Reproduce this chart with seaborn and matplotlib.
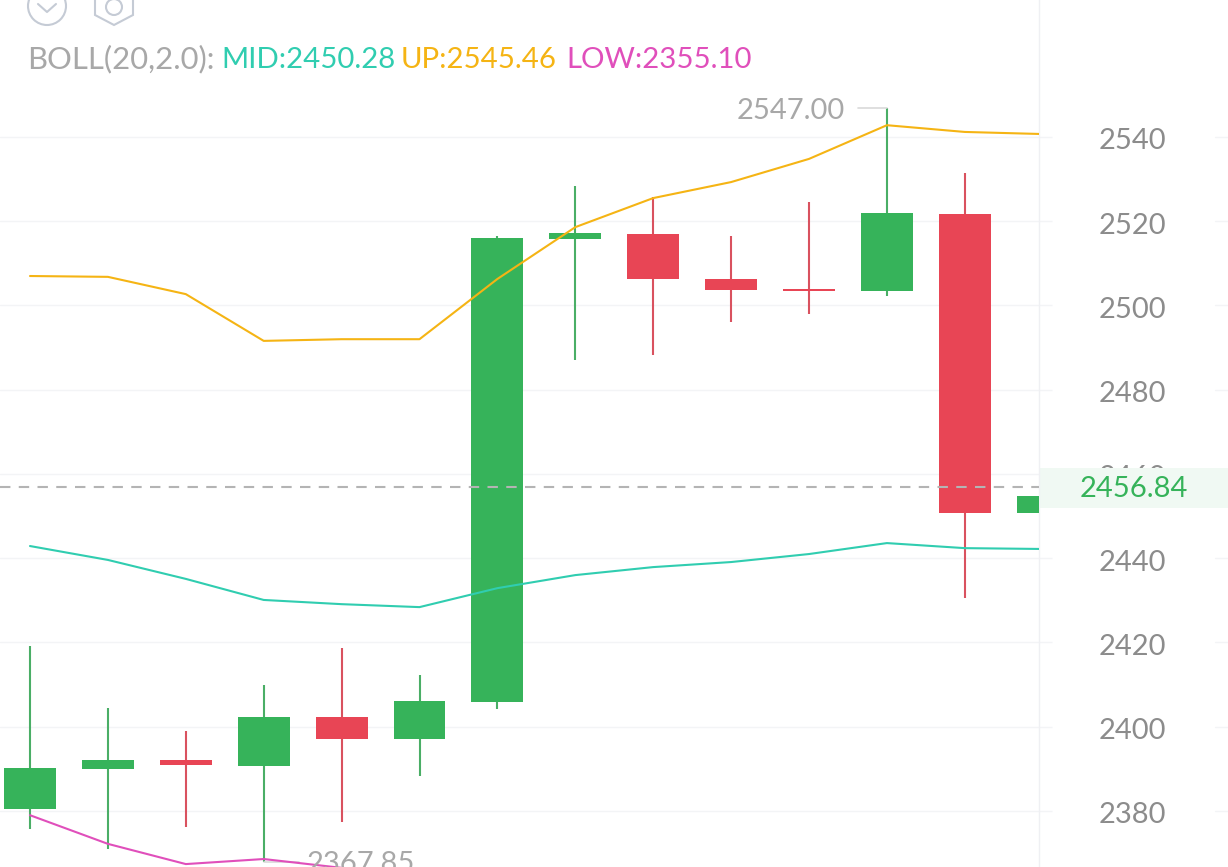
import matplotlib
matplotlib.use('Agg')
import matplotlib.pyplot as plt
from matplotlib.patches import Circle, Polygon, Rectangle
from matplotlib.transforms import ScaledTranslation, blended_transform_factory
import numpy as np
import pandas as pd
import seaborn as sns

# candle values, left to right
opens = [2380.5, 2390.0, 2392.1, 2390.7, 2402.3, 2397.1, 2405.9, 2515.8, 2517.0, 2506.3, 2503.9, 2503.4, 2521.7, 2450.7]
closes = [2390.2, 2392.1, 2390.9, 2402.3, 2397.1, 2406.1, 2516.0, 2517.2, 2506.3, 2503.7, 2503.4, 2522.0, 2450.7, 2454.8]
highs = [2419.2, 2404.5, 2399.0, 2409.9, 2418.7, 2412.3, 2516.5, 2528.4, 2525.8, 2516.5, 2524.6, 2547.0, 2531.5, 2454.8]
lows = [2375.7, 2371.0, 2376.2, 2367.85, 2377.4, 2388.3, 2404.2, 2487.1, 2488.2, 2496.1, 2498.0, 2502.3, 2430.6, 2450.7]

# bollinger bands
boll_up = [2507.0, 2506.8, 2502.7, 2491.6, 2492.0, 2492.0, 2506.3, 2518.6, 2525.5, 2529.3, 2534.8, 2542.8, 2541.2, 2540.7]
boll_mid = [2442.9, 2439.6, 2435.1, 2430.1, 2429.1, 2428.4, 2432.9, 2436.0, 2437.9, 2439.1, 2441.0, 2443.6, 2442.4, 2442.2]
boll_low = [2379.0, 2372.2, 2367.4, 2368.6, 2366.5]

price_ticks = [2380, 2400, 2420, 2440, 2460, 2480, 2500, 2520, 2540]
last_price = 2456.84

GREEN = '#36B35A'
RED = '#E84555'
TEAL = '#30CDB0'
YELLOW = '#F5B414'
PINK = '#E04FBB'
GRID = '#F3F4F6'
FONT = 'Lato'

sns.set_theme(style='white')
plt.rcParams['font.family'] = [FONT, 'DejaVu Sans']

W, H = 1228, 867
fig = plt.figure(figsize=(W / 100, H / 100), dpi=100)
ax = fig.add_axes([0, 0, 1039 / W, 1])

df = pd.DataFrame({'i': np.arange(len(opens)), 'open': opens, 'close': closes, 'high': highs, 'low': lows})
df['bottom'] = df[['open', 'close']].min(axis=1)
df['height'] = (df['close'] - df['open']).abs()
df['up'] = df['close'] >= df['open']

# wicks
wick_col = df['up'].map({True: '#4AAE66', False: '#D9525F'})
ax.vlines(df['i'], df['low'], df['high'], colors=wick_col, lw=1.5, zorder=2)

# bodies
for up, col in [(True, GREEN), (False, RED)]:
    part = df[df['up'] == up]
    sns.barplot(data=part, x='i', y='height', bottom=part['bottom'].values, native_scale=True,
                color=col, saturation=1, width=0.667, errorbar=None, ax=ax, zorder=3, linewidth=0)

# bands
sns.lineplot(x=np.arange(len(boll_up)), y=boll_up, color=YELLOW, lw=1.5, ax=ax, zorder=4)
sns.lineplot(x=np.arange(len(boll_mid)), y=boll_mid, color=TEAL, lw=1.5, ax=ax, zorder=4)
sns.lineplot(x=np.arange(len(boll_low)), y=boll_low, color=PINK, lw=1.5, ax=ax, zorder=4)

ax.set_xlim(-30 / 77.9, (1039 - 30) / 77.9)
ax.set_ylim(2540 - (H - 137) / 4.2125, 2540 + 137 / 4.2125)
ax.set_xlabel('')
ax.set_ylabel('')
ax.set_xticks([])
ax.set_yticks(price_ticks)
ax.yaxis.tick_right()
ax.tick_params(axis='y', right=True, length=9.5, width=1, color=GRID, pad=33.5,
               labelsize=21, labelcolor='#8C8C8C')
ax.set_axisbelow(True)
ax.grid(axis='y', color=GRID, lw=1)
for s in ['top', 'left', 'bottom']:
    ax.spines[s].set_visible(False)
ax.spines['right'].set_color('#EFF0F3')
ax.spines['right'].set_linewidth(1)

# nudge the text down a little
down = ScaledTranslation(0, -2 / 100, fig.dpi_scale_trans)
for lab in ax.get_yticklabels():
    lab.set_transform(lab.get_transform() + down)

# right side grid stubs
trans = blended_transform_factory(fig.transFigure, ax.transData)
for p in price_ticks:
    ax.plot([1215 / W, 1], [p, p], color=GRID, lw=1, transform=trans, clip_on=False, zorder=0.6)

# last price tag and line
ax.add_patch(Rectangle((1039 / W, 2452.0), 189 / W, 9.4, transform=trans, facecolor='#F0F9F3',
                       edgecolor='none', clip_on=False, zorder=1))
ax.axhline(last_price, color='#B4B4B4', lw=1.5, dashes=(5, 4), zorder=5)
ax.text(1134 / W, last_price, f'{last_price:.2f}', transform=trans + down, color=GREEN, fontsize=21,
        ha='center', va='center', zorder=6)

# high / low labels
ax.plot([10.63, 11], [2547.0, 2547.0], color='#D9D9D9', lw=1.2, zorder=2)
ax.text(10.46, 2547.0, '2547.00', color='#A8A8A8', fontsize=21, ha='right', va='center', zorder=6,
        transform=ax.transData + ScaledTranslation(0, -3 / 100, fig.dpi_scale_trans))
ax.plot([3, 3.45], [2367.85, 2367.85], color='#D9D9D9', lw=1.2, zorder=2)
ax.text(3.55, 2367.85, '2367.85', color='#A8A8A8', fontsize=21, ha='left', va='center', zorder=6,
        transform=ax.transData + down)

# header and icons, in pixels
ov = fig.add_axes([0, 0, 1, 1], facecolor='none')
ov.set_xlim(0, W)
ov.set_ylim(H, 0)
ov.axis('off')
for x, txt, col, size in [(27, 'BOLL(20,2.0):', '#A8A8A8', 22.3), (221, 'MID:2450.28', TEAL, 21.2),
                          (401, 'UP:2545.46', YELLOW, 21.2), (566, 'LOW:2355.10', PINK, 21.2)]:
    ov.text(x, 68, txt, color=col, fontsize=size, ha='left', va='baseline')

ICON = '#C5CBD5'
ov.add_patch(Circle((47, 6), 19, fill=False, ec=ICON, lw=1.5))
ov.plot([38, 47, 56], [4, 12, 4], color=ICON, lw=1.5)
ov.add_patch(Polygon([(95, -5), (133, -5), (133, 15), (114, 25), (95, 15)], closed=True,
                     fill=False, ec=ICON, lw=1.5))
ov.add_patch(Circle((114, 7), 8, fill=False, ec=ICON, lw=1.5))

fig.savefig('out.png', dpi=100)
